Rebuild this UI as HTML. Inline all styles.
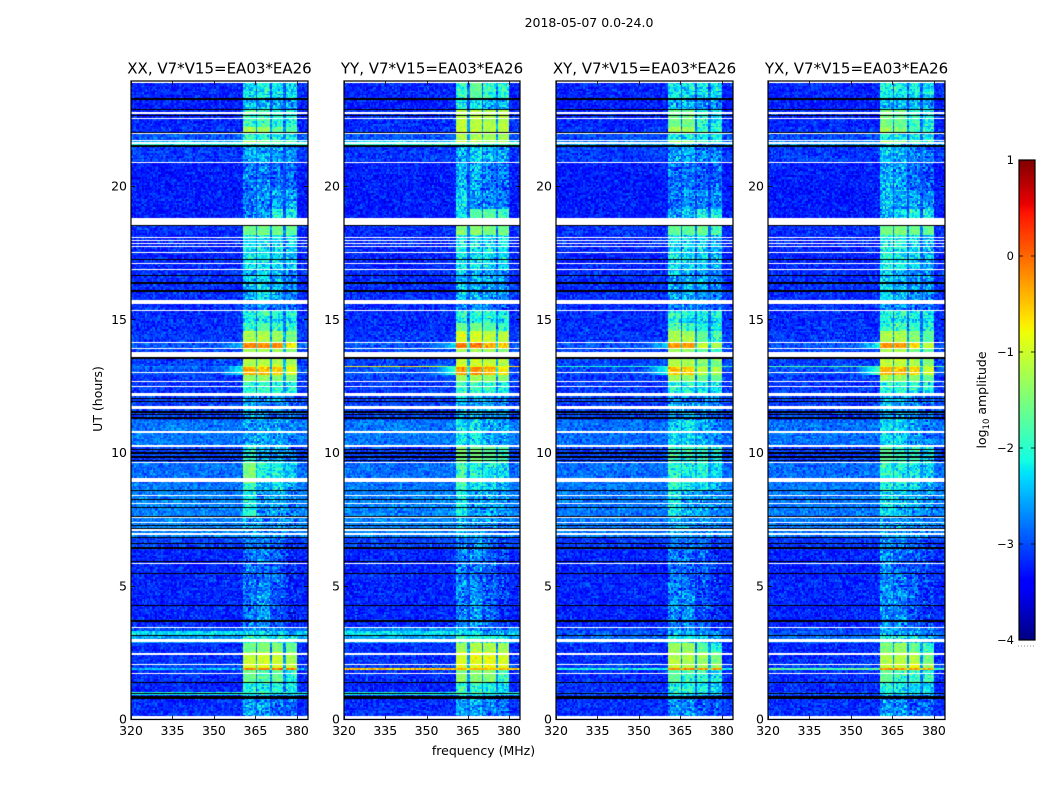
<!DOCTYPE html>
<html lang="en">
<head>
<meta charset="utf-8">
<title>2018-05-07 0.0-24.0 spectrograms</title>
<style>
html,body{margin:0;padding:0;background:#fff;}
#figure{position:relative;width:1050px;height:800px;overflow:hidden;background:#fff;font-family:"DejaVu Sans","Liberation Sans",sans-serif;}
canvas{position:absolute;display:block;}
#overlay{position:absolute;left:0;top:0;}
text{font-family:"DejaVu Sans","Liberation Sans",sans-serif;fill:#000;}
</style>
</head>
<body>
<div id="figure">
<svg id="overlay" width="1050" height="800" viewBox="0 0 1050 800">
<text x="589" y="27" text-anchor="middle" font-size="12.5">2018-05-07 0.0-24.0</text>
<text x="483.5" y="755" text-anchor="middle" font-size="12.5">frequency (MHz)</text>
<text transform="translate(102,399) rotate(-90)" text-anchor="middle" font-size="12.5">UT (hours)</text>
<text transform="translate(986,400) rotate(-90)" text-anchor="middle" font-size="12.5">log<tspan font-size="8.5" dy="3">10</tspan><tspan dy="-3"> amplitude</tspan></text>
</svg>
</div>
<script>
// ---- chart data ----
const panelTitles = ["XX, V7*V15=EA03*EA26", "YY, V7*V15=EA03*EA26", "XY, V7*V15=EA03*EA26", "YX, V7*V15=EA03*EA26"];
const xTickValues = [320, 335, 350, 365, 380];
const yTickValues = [0, 5, 10, 15, 20];
const colorTickValues = [1, 0, -1, -2, -3, -4];
const freqEnd = 384;
const hourEnd = 23.95;

// frequency sub-band limits (MHz): receiver bands inside 320-384
const bandStartMHz = [360.5, 365.8, 370.9, 375.9];
const bandEndMHz   = [365.0, 370.2, 375.1, 380.2];

// time segment limits (UT hours, descending)
const segmentEdges = [23.94,23.30,22.85,22.21,21.99,21.73,21.58,21.46,20.86,19.85,19.15,18.54,18.16,16.85,15.57,15.35,15.08,14.90,14.60,14.15,13.92,13.62,13.55,13.28,13.22,12.87,12.65,12.12,11.22,10.21,9.64,8.89,8.59,7.58,6.83,6.42,4.84,3.45,3.26,3.15,2.89,2.48,2.06,1.91,1.84,1.39,0.98,0.86,0];

// log10 amplitude per segment: [background, band1, band2, band3, band4]
const levelsXX = [
[-3.15,-2.15,-2.05,-2.15,-2.15],[-3.2,-2.3,-2.3,-2.4,-2.4],[-3.15,-1.75,-1.75,-1.95,-1.95],[-3.1,-1.2,-1.3,-1.7,-1.7],
[-2.9,-1.9,-2,-2,-2],[-2.5,-1.2,-1.5,-1.7,-1.7],[-2.1,-1.9,-1.9,-2,-2],[-3.05,-2.35,-2.3,-2.4,-2.5],
[-3.2,-2.6,-2.55,-2.7,-2.7],[-3.2,-2.55,-2.5,-2.35,-2.35],[-3.2,-2.55,-2.35,-2,-2],[-3.1,-1.55,-1.55,-1.55,-1.6],
[-3.15,-2.1,-2.1,-2.15,-2.2],[-3.1,-2.3,-2.2,-2.35,-2.5],[-3.1,-2.6,-2.5,-2.6,-2.7],[-3.1,-1.9,-1.85,-1.9,-2],
[-3.1,-2.1,-2.1,-2.1,-2.1],[-3.1,-1.8,-1.7,-1.8,-1.9],[-3.05,-1.25,-1.2,-1.3,-1.5],[-2.9,-0.2,-0.2,-0.25,-0.7],
[-3,-1.3,-1.3,-1.3,-1.4],[-2.1,-1.9,-1.9,-1.9,-1.9],[-3,-1.15,-1.15,-1.2,-1.2],[-2.8,-0.9,-0.9,-0.9,-1],
[-2.9,-0.45,-0.45,-0.5,-0.85],[-3.05,-1.35,-1.35,-1.4,-1.5],[-3.05,-1.85,-1.85,-1.9,-2.05],[-3,-2.4,-2.4,-2.5,-2.6],
[-2.8,-2.35,-2.35,-2.4,-2.55],[-3,-1.9,-2.3,-2.3,-2.5],[-2.85,-1.45,-2,-2,-2.2],[-2.8,-1.85,-2.4,-2.05,-2.4],
[-2.75,-2,-2.5,-2.35,-2.6],[-2.75,-2.35,-2.5,-2.45,-2.6],[-3,-2.6,-2.55,-2.7,-2.9],[-3.15,-2.6,-2.6,-2.7,-3],
[-3.15,-2.6,-2.4,-2.8,-3],[-2.9,-2.4,-2.4,-2.6,-2.8],[-2.3,-2.2,-2.2,-2.3,-2.4],[-2.6,-1.9,-1.9,-2,-2],
[-3.1,-1.55,-1.5,-1.5,-1.6],[-3.1,-1.1,-1,-1,-1.25],[-3,-0.95,-0.95,-0.95,-1.1],[-2.5,-0.1,-0.1,-0.1,-0.2],
[-3.1,-1.6,-1.75,-1.65,-1.95],[-3.15,-1.9,-2,-1.95,-2.1],[-2.1,-1.9,-2,-1.95,-2.1],[-3.1,-2.4,-2.45,-2.7,-2.7]];
const levelsYY = [
[-3.15,-1.8,-1.7,-1.9,-1.9],[-3.2,-2.1,-2.1,-2.3,-2.3],[-3.1,-1.15,-1.15,-1.2,-1.2],[-3.1,-1.05,-1.1,-1.15,-1.15],
[-2.9,-1.2,-1.2,-1.3,-1.3],[-2.4,-1.0,-1.05,-1.3,-1.3],[-2,-1.8,-1.8,-1.9,-1.9],[-3.05,-2.3,-2.2,-2.3,-2.4],
[-3.2,-2.35,-2.35,-2.6,-2.6],[-3.2,-2.15,-2.45,-2.5,-2.6],[-3.2,-2.1,-1.75,-1.7,-1.75],[-3.1,-1.45,-1.4,-1.5,-1.5],
[-3.15,-2.05,-2.1,-2.15,-2.2],[-3.1,-2.25,-2.3,-2.4,-2.5],[-3.1,-2.6,-2.5,-2.6,-2.7],[-3.1,-1.85,-1.85,-1.9,-1.95],
[-3.1,-2.1,-2.1,-2.1,-2.1],[-3.1,-1.6,-1.6,-1.7,-1.8],[-3.05,-0.95,-1,-1.1,-1.15],[-2.9,-0.15,-0.15,-0.4,-0.6],
[-3,-1.25,-1.25,-1.3,-1.4],[-2,-1.8,-1.8,-1.9,-1.9],[-3,-1,-1,-1.05,-1.2],[-0.75,-0.75,-0.75,-0.75,-0.8],
[-2.9,-0.3,-0.25,-0.4,-0.7],[-3,-1.25,-1.25,-1.35,-1.45],[-3.05,-1.8,-1.85,-1.85,-2],[-3,-2.3,-2.3,-2.4,-2.5],
[-2.8,-2.1,-2.15,-2.35,-2.4],[-3,-1.5,-1.5,-1.7,-1.8],[-2.85,-1.75,-1.9,-2.05,-2.15],[-2.8,-1.9,-2.2,-2.2,-2.3],
[-2.75,-2.1,-2.35,-2.35,-2.5],[-2.75,-2.3,-2.4,-2.45,-2.6],[-3,-2.5,-2.5,-2.7,-2.9],[-3.15,-2.5,-2.55,-2.7,-2.9],
[-3.15,-2.55,-2.4,-2.75,-2.9],[-2.7,-2.3,-2.35,-2.55,-2.7],[-2.3,-2.1,-2.2,-2.3,-2.3],[-2.6,-1.8,-1.8,-1.95,-1.95],
[-3.1,-1.3,-1.2,-1.2,-1.3],[-3.1,-0.95,-0.85,-0.85,-0.95],[-3,-0.85,-0.9,-0.8,-0.95],[-0.5,-0.45,-0.45,-0.5,-0.5],
[-3.1,-1.4,-1.4,-1.45,-1.75],[-3.15,-1.85,-1.9,-2,-2.15],[-2.1,-1.85,-1.85,-2,-2.1],[-3.1,-2.35,-2.35,-2.6,-2.65]];
const levelsXY = [
[-3.15,-2.05,-2.1,-2.1,-2.15],[-3.2,-2.3,-2.25,-2.4,-2.45],[-3.15,-1.6,-1.6,-1.95,-2.1],[-3.1,-1.25,-1.35,-1.8,-1.95],
[-2.95,-2,-2.05,-2.1,-2.1],[-2.8,-1.2,-1.45,-1.75,-1.9],[-2.6,-2.2,-2.3,-2.3,-2.4],[-3.05,-2.4,-2.35,-2.5,-2.6],
[-3.2,-2.6,-2.6,-2.7,-2.75],[-3.2,-2.6,-2.5,-2.5,-2.55],[-3.2,-2.4,-2.25,-2,-2.1],[-3.1,-1.65,-1.7,-1.65,-1.75],
[-3.15,-2.1,-2.2,-2.2,-2.3],[-3.1,-2.35,-2.3,-2.4,-2.55],[-3.1,-2.6,-2.55,-2.65,-2.75],[-3.1,-1.85,-1.9,-1.95,-2.05],
[-3.1,-2.1,-2.15,-2.15,-2.2],[-3.1,-1.75,-1.8,-1.9,-2],[-3.05,-1.2,-1.25,-1.65,-1.8],[-2.9,-0.25,-0.35,-1,-1.25],
[-3,-1.3,-1.4,-1.7,-1.8],[-2.4,-2,-2.1,-2.1,-2.1],[-3,-1.1,-1.2,-1.45,-1.55],[-2,-1,-1.05,-1.3,-1.5],
[-2.95,-0.5,-0.6,-1.1,-1.2],[-3.05,-1.3,-1.4,-1.6,-1.65],[-3.05,-1.9,-1.95,-2,-2.15],[-3,-2.35,-2.45,-2.5,-2.65],
[-2.85,-2.2,-2.2,-2.35,-2.5],[-3,-1.75,-1.85,-1.9,-2.1],[-2.85,-1.85,-2,-2,-2.2],[-2.8,-1.95,-2.1,-2.1,-2.3],
[-2.8,-2.05,-2.3,-2.35,-2.5],[-2.8,-2.35,-2.45,-2.5,-2.6],[-3.05,-2.6,-2.55,-2.7,-2.9],[-3.15,-2.6,-2.65,-2.75,-3],
[-3.15,-2.6,-2.5,-2.8,-3],[-3,-2.45,-2.5,-2.6,-2.8],[-2.9,-2.3,-2.35,-2.5,-2.6],[-2.85,-2,-2,-2.2,-2.3],
[-3.1,-1.35,-1.35,-1.7,-1.85],[-3.1,-1.15,-1.2,-1.35,-1.5],[-3,-1.1,-1.2,-1.3,-1.4],[-2.1,-0.2,-0.2,-0.25,-0.3],
[-3.1,-1.7,-1.8,-1.85,-2.05],[-3.1,-2,-2.05,-2.1,-2.2],[-2.9,-2,-2.05,-2.1,-2.2],[-3.1,-2.4,-2.5,-2.7,-2.75]];
const levelsYX = [
[-3.15,-2,-2,-2.1,-2.15],[-3.2,-2.25,-2.25,-2.35,-2.4],[-3.15,-1.55,-1.6,-1.85,-2],[-3.1,-1.3,-1.4,-1.75,-1.9],
[-2.95,-2,-2,-2.05,-2.1],[-2.8,-1.25,-1.5,-1.7,-1.85],[-2.6,-2.2,-2.25,-2.3,-2.4],[-3.05,-2.25,-2.3,-2.45,-2.55],
[-3.2,-2.3,-2.4,-2.6,-2.7],[-3.2,-2.25,-2.35,-2.35,-2.45],[-3.2,-2.3,-2.15,-2,-2],[-3.1,-1.55,-1.5,-1.6,-1.65],
[-3.15,-2,-2.05,-2.2,-2.25],[-3.1,-2.2,-2.25,-2.4,-2.5],[-3.1,-2.5,-2.5,-2.65,-2.7],[-3.1,-1.95,-1.95,-2,-2.1],
[-3.1,-2.1,-2.15,-2.15,-2.2],[-3.1,-1.8,-1.8,-1.9,-2],[-3.05,-1.2,-1.25,-1.45,-1.7],[-2.9,-0.25,-0.3,-0.6,-1.05],
[-3,-1.25,-1.3,-1.55,-1.7],[-2.4,-2,-2.05,-2.1,-2.1],[-3,-1.1,-1.15,-1.25,-1.45],[-1.7,-0.9,-0.95,-1,-1.2],
[-2.9,-0.4,-0.45,-0.6,-1],[-3.05,-1.3,-1.35,-1.45,-1.6],[-3.05,-1.9,-1.9,-2,-2.1],[-3,-2.25,-2.35,-2.45,-2.6],
[-2.85,-2.15,-2.2,-2.35,-2.5],[-3,-1.7,-1.8,-1.85,-2.1],[-2.85,-1.85,-2,-2.05,-2.2],[-2.8,-1.95,-2.1,-2.15,-2.3],
[-2.8,-2.1,-2.25,-2.35,-2.5],[-2.8,-2.3,-2.4,-2.5,-2.6],[-3.05,-2.5,-2.5,-2.7,-2.85],[-3.15,-2.5,-2.6,-2.7,-2.9],
[-3.15,-2.5,-2.5,-2.75,-2.95],[-3,-2.35,-2.45,-2.6,-2.75],[-2.9,-2.3,-2.35,-2.45,-2.6],[-2.85,-2,-2.05,-2.2,-2.3],
[-3.1,-1.5,-1.35,-1.65,-1.8],[-3.1,-1.2,-1.15,-1.2,-1.5],[-3,-1.1,-1.1,-0.9,-1.3],[-1.75,-0.2,-0.2,-0.25,-0.3],
[-3.1,-1.65,-1.75,-1.8,-1.95],[-3.1,-2,-2.05,-2.1,-2.15],[-2.9,-2,-2.05,-2.1,-2.15],[-3.1,-2.4,-2.5,-2.7,-2.75]];
const panelLevels = [levelsXX, levelsYY, levelsXY, levelsYX];

// rows with no data, shown white: [upper hour, lower hour]
const missingRows = [[23.95,23.87],[22.78,22.70],[22.55,22.51],[21.99,21.95],[21.73,21.69],[21.65,21.58],[20.90,20.86],[18.80,18.54],[18.09,18.05],[17.97,17.93],[17.86,17.82],[17.76,17.72],[17.52,17.48],[17.11,17.07],[16.88,16.84],[15.72,15.59],[15.35,15.31],[14.15,14.11],[13.92,13.88],[13.77,13.60],[13.02,12.98],[12.68,12.63],[12.50,12.46],[12.23,12.12],[11.74,11.71],[11.69,11.65],[10.81,10.75],[10.28,10.21],[9.64,9.61],[9.04,8.89],[8.41,8.37],[8.11,8.07],[7.58,7.54],[7.39,7.35],[7.13,7.07],[6.98,6.90],[5.85,5.82],[3.45,3.41],[3.00,2.89],[2.48,2.40],[2.06,2.03],[1.73,1.69],[0.10,0]];
// rows of very low amplitude, shown black: [upper hour, lower hour]
const darkRows = [[23.32,23.24],[22.89,22.85],[22.66,22.63],[22.01,21.99],[21.54,21.46],[18.52,18.49],[17.26,17.22],[16.66,16.62],[16.38,16.34],[16.08,16.04],[13.57,13.49],[12.05,11.99],[11.93,11.88],[11.56,11.50],[11.44,11.39],[11.33,11.26],[10.13,10.09],[10.02,9.96],[9.87,9.81],[9.72,9.68],[8.59,8.56],[8.25,8.22],[7.95,7.92],[7.62,7.58],[7.28,7.24],[7.17,7.13],[6.83,6.79],[6.60,6.57],[6.45,6.38],[5.93,5.89],[5.48,5.44],[4.28,4.24],[3.71,3.64],[3.17,3.10],[1.39,1.35],[0.98,0.92],[0.86,0.75]];

// interference leaking below the first band: hour limits, then level per panel
const leakHours = [[14.15,13.92],[13.24,12.87]];
const leakLevels = [[-2.5,-2.1],[-2.3,-1.9],[-2.3,-2],[-2.1,-1.75]];
const leakStartMHz = 352;

// fixed channel-to-channel texture (typed tile, log10 offset)
const speckleA = [0.12,-0.2,0.31,-0.05,0.22,-0.33,0.08,0.27,-0.15,-0.28,0.18,0.03,-0.24,0.35,-0.1,0.14,-0.3,0.25,-0.02,0.1,-0.18,0.29,-0.26,0.06,0.2,-0.12,-0.34,0.16,0.33,-0.08,-0.22];
const speckleB = [-0.14,0.24,-0.3,0.09,0.17,-0.04,0.28,-0.2,0.02,-0.26,0.13,0.32,-0.11,-0.35,0.21,0.05,-0.17,0.3,-0.07,0.11,-0.28,0.19,0.26,-0.13,-0.02,0.34,-0.23,0.07,-0.32,0.15,0.01,-0.19,0.23,-0.09,0.29,-0.25,0.04];

// ---- geometry and scales ----
const panelLeft = [131, 344, 556, 768];
const panelRight = [308, 520, 733, 945];
const plotTop = 81, plotBottom = 719.5;
const pxPerHour = 26.65;
const cellW = 1.6, cellH = 1.6;
const barLeft = 1019, barRight = 1035, barTop = 160, barBottom = 640;
const colorMin = -4, colorMax = 1;
const quietBandBias = -0.22, backgroundBias = -0.07;
const bandSpeckle = 1.05, backgroundSpeckle = 0.62;

function xScale(panel, mhz) { return panelLeft[panel] + (mhz - 320) * (panelRight[panel] - panelLeft[panel]) / (freqEnd - 320); }
function xInverse(panel, px) { return 320 + (px - panelLeft[panel]) * (freqEnd - 320) / (panelRight[panel] - panelLeft[panel]); }
function yScale(hour) { return 719 - hour * pxPerHour; }
function yInverse(px) { return (719 - px) / pxPerHour; }
function colorScale(level) { return barBottom - (level - colorMin) * (barBottom - barTop) / (colorMax - colorMin); }

const jetR = [[0,0],[0.35,0],[0.66,1],[0.89,1],[1,0.5]];
const jetG = [[0,0],[0.125,0],[0.375,1],[0.64,1],[0.91,0],[1,0]];
const jetB = [[0,0.5],[0.11,1],[0.34,1],[0.65,0],[1,0]];
function ramp(stops, t) {
  for (let i = 1; i < stops.length; i++) {
    if (t <= stops[i][0]) {
      const a = stops[i - 1], b = stops[i];
      return a[1] + (b[1] - a[1]) * (t - a[0]) / (b[0] - a[0]);
    }
  }
  return stops[stops.length - 1][1];
}
function jet(level) {
  const t = Math.max(0, Math.min(1, (level - colorMin) / (colorMax - colorMin)));
  return "rgb(" + Math.round(ramp(jetR, t) * 255) + "," + Math.round(ramp(jetG, t) * 255) + "," + Math.round(ramp(jetB, t) * 255) + ")";
}

function segmentAt(hour) {
  for (let i = 0; i < segmentEdges.length - 1; i++) {
    if (hour <= segmentEdges[i] && hour > segmentEdges[i + 1]) return i;
  }
  return hour > segmentEdges[0] ? 0 : segmentEdges.length - 2;
}
// returns [level, speckle strength]
function cellLevel(panel, mhz, hour) {
  const row = panelLevels[panel][segmentAt(hour)];
  const bg = row[0] < -2.85 ? row[0] + backgroundBias : row[0];
  for (let b = 0; b < bandStartMHz.length; b++) {
    if (mhz >= bandStartMHz[b] && mhz <= bandEndMHz[b]) {
      const v = row[b + 1];
      if (v < -2.2) return [v + quietBandBias, bandSpeckle];
      if (v < -1.7) return [v + quietBandBias * 0.5, bandSpeckle * 0.9];
      return [v, bandSpeckle * 0.45];
    }
  }
  if (mhz > bandStartMHz[0] && mhz < bandEndMHz[3]) {
    const hi = Math.max(row[1], row[2], row[3], row[4]);
    return [bg + (hi - bg) * 0.25, backgroundSpeckle];
  }
  for (let k = 0; k < leakHours.length; k++) {
    if (hour <= leakHours[k][0] && hour > leakHours[k][1] && mhz >= leakStartMHz && mhz < bandStartMHz[0]) {
      return [bg + (leakLevels[panel][k] - bg) * (mhz - leakStartMHz) / (bandStartMHz[0] - leakStartMHz), backgroundSpeckle * 0.7];
    }
  }
  return [bg, backgroundSpeckle];
}

// ---- drawing ----
const figure = document.getElementById("figure");
const overlay = document.getElementById("overlay");
const SVGNS = "http://www.w3.org/2000/svg";

function svgEl(tag, attrs, text) {
  const el = document.createElementNS(SVGNS, tag);
  for (const k in attrs) el.setAttribute(k, attrs[k]);
  if (text !== undefined) el.textContent = text;
  overlay.appendChild(el);
  return el;
}

function drawPanel(p) {
  const left = panelLeft[p], right = panelRight[p];
  const width = right - left, height = Math.round(plotBottom - plotTop);
  const cv = document.createElement("canvas");
  cv.width = width;
  cv.height = height;
  cv.style.left = left + "px";
  cv.style.top = plotTop + "px";
  
  
  figure.insertBefore(cv, overlay);
  const ctx = cv.getContext("2d");
  const cols = Math.ceil(width / cellW), rows = Math.ceil(height / cellH);
  for (let r = 0; r < rows; r++) {
    const py0 = Math.round(r * cellH), py1 = Math.round((r + 1) * cellH);
    const hour = yInverse(plotTop + (r + 0.5) * cellH);
    for (let c = 0; c < cols; c++) {
      const px0 = Math.round(c * cellW), px1 = Math.round((c + 1) * cellW);
      const mhz = xInverse(p, left + (c + 0.5) * cellW);
      const k = ((c * 7919) ^ (r * 104729) ^ (p * 1299709)) >>> 0;
      const jitter = speckleA[k % speckleA.length] + speckleB[(k >>> 5) % speckleB.length];
      const cell = cellLevel(p, mhz, hour);
      ctx.fillStyle = jet(cell[0] + jitter * cell[1]);
      ctx.fillRect(px0, py0, px1 - px0, py1 - py0);
    }
  }
  function strip(list, colour) {
    ctx.fillStyle = colour;
    for (const b of list) {
      const y0 = Math.round(yScale(b[0]) - plotTop);
      const y1 = Math.max(y0 + 1, Math.round(yScale(b[1]) - plotTop));
      ctx.fillRect(0, y0, width, y1 - y0);
    }
  }
  strip(darkRows, "#000");
  strip(missingRows, "#fff");

  // frame
  const frame = svgEl("rect", {x: left, y: plotTop, width: width, height: plotBottom - plotTop, fill: "none", stroke: "#000", "stroke-width": 1.2});
  
  

  // x ticks
  for (const v of xTickValues) {
    const x = Math.round(xScale(p, v)) + 0.5;
    const lo = svgEl("line", {x1: x, x2: x, y1: plotBottom, y2: plotBottom - 4, stroke: "#000", "stroke-width": 0.8});
    
    
    const hi = svgEl("line", {x1: x, x2: x, y1: plotTop, y2: plotTop + 4, stroke: "#000", "stroke-width": 0.8});
    
    
    const lab = svgEl("text", {x: xScale(p, v), y: 735, "text-anchor": "middle", "font-size": 12.5}, String(v));
    
    
  }
  // y ticks
  for (const v of yTickValues) {
    const y = Math.round(yScale(v)) + 0.5;
    const lo = svgEl("line", {x1: left, x2: left + 4, y1: y, y2: y, stroke: "#000", "stroke-width": 0.8});
    
    
    const hi = svgEl("line", {x1: right, x2: right - 4, y1: y, y2: y, stroke: "#000", "stroke-width": 0.8});
    
    
    const lab = svgEl("text", {x: left - 4, y: yScale(v) + 4.5, "text-anchor": "end", "font-size": 12.5}, String(v));
    
    
  }
  const title = svgEl("text", {x: (left + right) / 2, y: 73.5, "text-anchor": "middle", "font-size": 15}, panelTitles[p]);
  
  
}

function drawColorbar() {
  const w = barRight - barLeft, h = barBottom - barTop;
  const cv = document.createElement("canvas");
  cv.width = w;
  cv.height = h;
  cv.style.left = barLeft + "px";
  cv.style.top = barTop + "px";
  
  
  figure.insertBefore(cv, overlay);
  const ctx = cv.getContext("2d");
  for (let y = 0; y < h; y++) {
    ctx.fillStyle = jet(colorMax - (y + 0.5) * (colorMax - colorMin) / h);
    ctx.fillRect(0, y, w, 1);
  }
  const frame = svgEl("rect", {x: barLeft, y: barTop, width: w, height: h, fill: "none", stroke: "#000", "stroke-width": 1.2});
  
  
  for (const v of colorTickValues) {
    const y = Math.round(colorScale(v));
    const a = svgEl("line", {x1: barLeft, x2: barLeft + 4, y1: y, y2: y, stroke: "#000", "stroke-width": 0.8});
    
    
    const b = svgEl("line", {x1: barRight, x2: barRight - 4, y1: y, y2: y, stroke: "#000", "stroke-width": 0.8});
    
    
    const txt = svgEl("text", {x: barLeft - 5, y: colorScale(v) + 4, "text-anchor": "end", "font-size": 11.5}, v < 0 ? "\u2212" + Math.abs(v) : String(v));
    
    
  }
  const dots = svgEl("line", {x1: barLeft - 1, x2: barRight, y1: 646, y2: 646, stroke: "#888", "stroke-width": 1, "stroke-dasharray": "1 2"});
  
  
}

for (let p = 0; p < panelTitles.length; p++) drawPanel(p);
drawColorbar();
</script>
</body>
</html>
